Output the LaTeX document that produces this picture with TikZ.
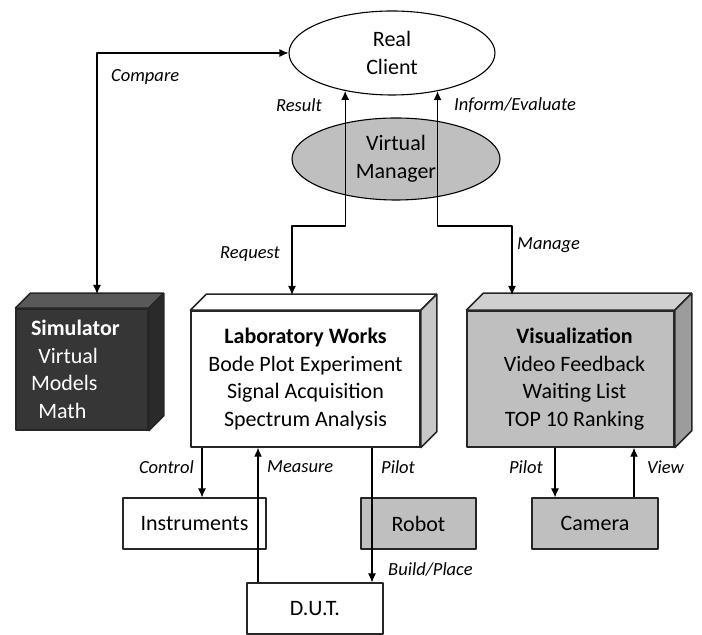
\documentclass[tikz,border=0pt]{standalone}
\usepackage{fontspec}
\setmainfont{Carlito}
\usetikzlibrary{arrows.meta,shapes.geometric}
\definecolor{simfront}{HTML}{363636}
\definecolor{simtop}{HTML}{595959}
\definecolor{simside}{HTML}{2A2A2A}
\definecolor{labside}{HTML}{C8C8C8}
\definecolor{visfront}{HTML}{BFBFBF}
\definecolor{vistop}{HTML}{D0D0D0}
\definecolor{visside}{HTML}{9C9C9C}
\definecolor{edge}{HTML}{262626}
\tikzset{
  oval/.style={ellipse,draw,line width=1.1bp,inner sep=0pt,align=center},
  cube/.style={rectangle,draw=edge,line width=1.5bp,inner sep=0pt,align=center},
  plainbox/.style={rectangle,draw=edge,line width=1.1bp,inner sep=0pt,minimum height=51bp},
  lbl/.style={inner sep=0pt,font=\itshape\fontsize{18.5bp}{22bp}\selectfont},
}
\begin{document}
\begin{tikzpicture}[>={Latex[length=9bp,width=8bp]},line join=bevel,font=\fontsize{22bp}{27.5bp}\selectfont]
%%
\useasboundingbox (0bp,0bp) rectangle (702bp,635bp);
\node (client) at (392bp,582bp) [oval,minimum width=206bp,minimum height=84bp] {Real\\Client};
  \node (vm) at (396bp,476bp) [oval,fill=visfront,minimum width=208bp,minimum height=82bp] {Virtual\\Manager};
  \node (sim) at (82bp,265.5bp) [cube,fill=simfront,text=white,minimum width=132bp,minimum height=121bp,text width=102bp,inner xsep=15bp,align=left] {\textbf{Simulator}\\\ Virtual\\Models\\\ Math};
  \node (lab) at (305.5bp,256bp) [cube,fill=white,minimum width=229bp,minimum height=136bp] {\textbf{Laboratory Works}\\Bode Plot Experiment\\Signal Acquisition\\Spectrum Analysis};
  \node (vis) at (570.5bp,256bp) [cube,fill=visfront,minimum width=207bp,minimum height=136bp] {\hspace{8bp}\textbf{Visualization}\\\hspace{8bp}Video Feedback\\\hspace{8bp}Waiting List\\\hspace{8bp}TOP 10 Ranking};
  \node (instr) at (194.5bp,111.5bp) [plainbox,minimum width=143bp] {Instruments};
  \node (robot) at (418.5bp,111.5bp) [plainbox,fill=visfront,minimum width=115bp] {Robot};
  \node (camera) at (595bp,111.5bp) [plainbox,fill=visfront,minimum width=126bp] {Camera};
  \node (dut) at (315bp,26.5bp) [plainbox,minimum width=136bp] {D.U.T.};
%
\foreach \n/\d/\t/\s in {sim/15/simtop/simside,lab/16/white/labside,vis/17/vistop/visside} {
  \filldraw [draw=edge,line width=1.5bp,fill=\t] (\n.north west) -- ++(\d bp,\d bp) -- ([shift={(\d bp,\d bp)}]\n.north east) -- (\n.north east) -- cycle;
  \filldraw [draw=edge,line width=1.5bp,fill=\s] (\n.north east) -- ++(\d bp,\d bp) -- ([shift={(\d bp,\d bp)}]\n.south east) -- (\n.south east) -- cycle;
}
%
\coordinate (simin) at (97bp,341bp);
  \coordinate (labin) at (292bp,340bp);
  \coordinate (visin) at (512bp,340bp);
  \coordinate (ctl) at (202bp,0bp);
  \coordinate (mea) at (258bp,0bp);
  \coordinate (plt) at (372bp,0bp);
  \coordinate (pcam) at (555bp,0bp);
  \coordinate (view) at (634bp,0bp);
\draw [black,line width=1.1bp,<->] (client.west) -| (simin);
  \draw [black,line width=1.1bp,<->] (labin) -- ++(0bp,69bp) -| (client.219.3);
  \draw [black,line width=1.1bp,<->] (visin) -- ++(0bp,69bp) -| (client.320.7);
  \draw [black,line width=1.1bp,->] (ctl |- lab.south) -- (ctl |- instr.north);
  \draw [black,line width=1.1bp,->] (mea |- dut.north) -- (mea |- lab.south);
  \draw [black,line width=1.1bp,->] (plt |- lab.south) -- (plt |- dut.north);
  \draw [black,line width=1.1bp,->] (pcam |- vis.south) -- (pcam |- camera.north);
  \draw [black,line width=1.1bp,->] (view |- camera.north) -- (view |- vis.south);
%
\node (lcompare) at (111bp,558bp) [lbl,anchor=west] {Compare};
  \node (lresult) at (322bp,530bp) [lbl,anchor=east] {Result};
  \node (linform) at (454bp,530bp) [lbl,anchor=west] {Inform/Evaluate};
  \node (lrequest) at (280bp,381bp) [lbl,anchor=east] {Request};
  \node (lmanage) at (517bp,390bp) [lbl,anchor=west] {Manage};
  \node (lcontrol) at (194bp,168bp) [lbl,anchor=east] {Control};
  \node (lmeasure) at (267bp,168bp) [lbl,anchor=west] {Measure};
  \node (lpilot) at (381bp,168bp) [lbl,anchor=west] {Pilot};
  \node (lpilotcam) at (543bp,168bp) [lbl,anchor=east] {Pilot};
  \node (lview) at (647bp,168bp) [lbl,anchor=west] {View};
  \node (lbuild) at (388bp,66bp) [lbl,anchor=west] {Build/Place};
%
\end{tikzpicture}
\end{document}
